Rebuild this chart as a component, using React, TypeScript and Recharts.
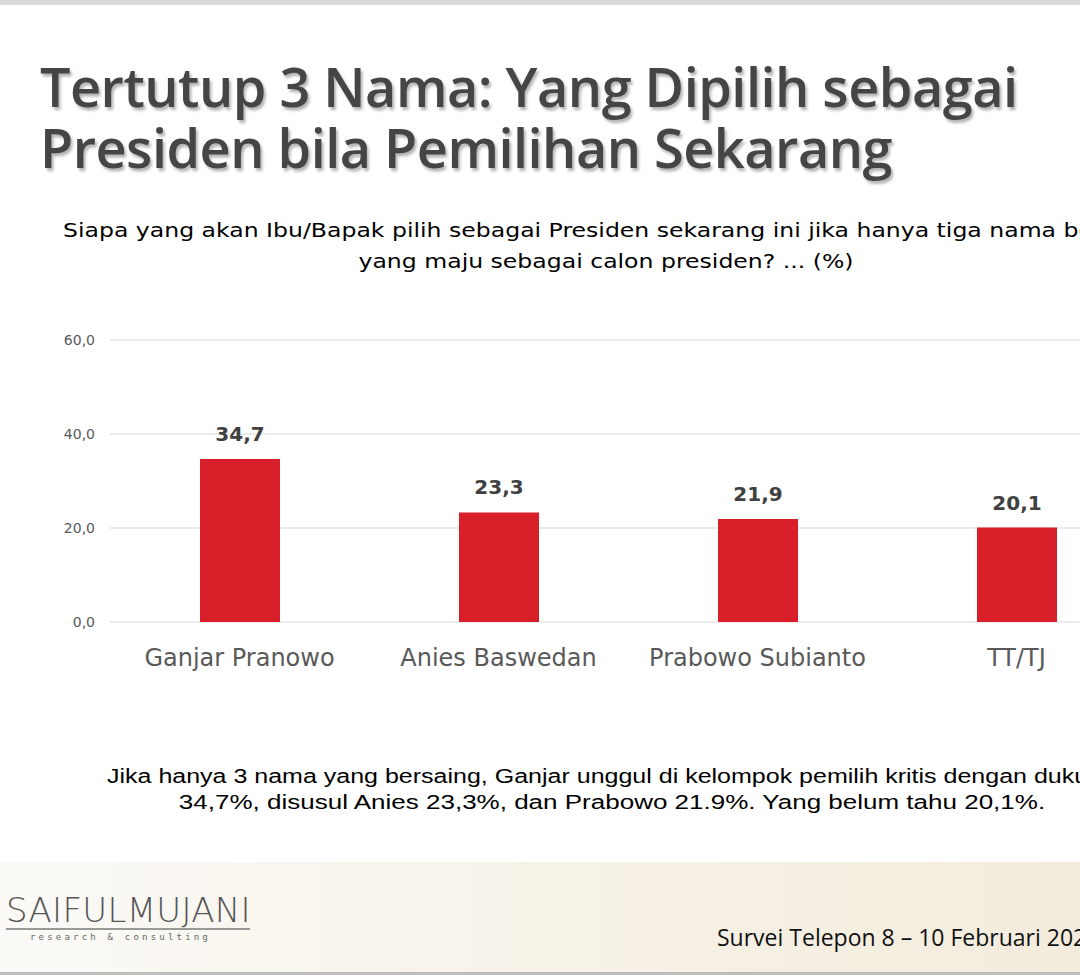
import React from "react";
import { BarChart, Bar, XAxis, YAxis, CartesianGrid, LabelList } from "recharts";

const candidates = ["Ganjar Pranowo", "Anies Baswedan", "Prabowo Subianto", "TT/TJ"];
const shares = [34.7, 23.3, 21.9, 20.1];
const yTicks = [0, 20, 40, 60];

const data = candidates.map((name, i) => ({ name, value: shares[i] }));

const fmt = (v: number) => v.toFixed(1).replace(".", ",");

const titleStyle: React.CSSProperties = {
  position: "absolute",
  left: 40,
  fontFamily: "'Open Sans', sans-serif",
  fontWeight: 600,
  fontSize: 54,
  lineHeight: "54px",
  color: "#454545",
  textShadow: "2px 3px 3px rgba(0,0,0,0.3)",
  whiteSpace: "nowrap",
  letterSpacing: -0.5
};

const App = () => {
  return (
    <div
      style={{
        position: "absolute",
        left: 0,
        top: 0,
        width: 1080,
        height: 977,
        overflow: "hidden",
        background: "#fff",
        fontFamily: "'Liberation Sans', Arial, sans-serif"
      }}
    >
      <div style={{ position: "absolute", left: 0, top: 0, width: 1080, height: 5, background: "#d9d9d9" }} />

      <div style={{ ...titleStyle, top: 59 }}>Tertutup 3 Nama: Yang Dipilih sebagai</div>
      <div style={{ ...titleStyle, top: 120 }}>Presiden bila Pemilihan Sekarang</div>

      <div
        style={{
          position: "absolute",
          left: 63,
          top: 219,
          fontSize: 19,
          color: "#000",
          whiteSpace: "nowrap",
          fontFamily: "'DejaVu Sans', sans-serif",
          transform: "scaleX(1.24)",
          transformOrigin: "left center"
        }}
      >
        Siapa yang akan Ibu/Bapak pilih sebagai Presiden sekarang ini jika hanya tiga nama berikut ini
      </div>
      <div
        style={{
          position: "absolute",
          left: 106,
          width: 1000,
          top: 250,
          fontSize: 19,
          color: "#000",
          textAlign: "center",
          whiteSpace: "nowrap",
          fontFamily: "'DejaVu Sans', sans-serif",
          transform: "scaleX(1.24)",
          transformOrigin: "center center"
        }}
      >
        yang maju sebagai calon presiden? ... (%)
      </div>

      <div style={{ position: "absolute", left: 0, top: 300 }}>
        <BarChart width={1146} height={400} data={data} margin={{ top: 40, right: 0, left: 0, bottom: 18 }}>
          <CartesianGrid vertical={false} stroke="#d9d9d9" />
          <YAxis
            domain={[0, 60]}
            ticks={yTicks}
            width={110}
            axisLine={false}
            tickLine={false}
            tickSize={0}
            tickMargin={15}
            tickFormatter={fmt}
            tick={{ fill: "#595959", fontSize: 14, fontFamily: "'DejaVu Sans', sans-serif" }}
          />
          <XAxis
            dataKey="name"
            height={60}
            axisLine={false}
            tickLine={false}
            tickSize={0}
            tickMargin={27}
            interval={0}
            tick={{ fill: "#595959", fontSize: 24, fontFamily: "'DejaVu Sans', sans-serif" }}
          />
          <Bar dataKey="value" fill="#d81f2a" barSize={80} isAnimationActive={false}>
            <LabelList
              dataKey="value"
              position="top"
              offset={18}
              formatter={(v: any) => fmt(Number(v))}
              style={{ fill: "#404040", fontSize: 20, fontWeight: 700, fontFamily: "'DejaVu Sans', sans-serif" }}
            />
          </Bar>
        </BarChart>
      </div>

      <div
        style={{
          position: "absolute",
          left: 107,
          top: 765,
          fontSize: 20,
          color: "#000",
          whiteSpace: "nowrap",
          transform: "scaleX(1.25)",
          transformOrigin: "left center"
        }}
      >
        Jika hanya 3 nama yang bersaing, Ganjar unggul di kelompok pemilih kritis dengan dukungan
      </div>
      <div
        style={{
          position: "absolute",
          left: 112,
          width: 1000,
          top: 791,
          fontSize: 20,
          color: "#000",
          textAlign: "center",
          whiteSpace: "nowrap",
          transform: "scaleX(1.3)",
          transformOrigin: "center center"
        }}
      >
        34,7%, disusul Anies 23,3%, dan Prabowo 21.9%. Yang belum tahu 20,1%.
      </div>

      <div
        style={{
          position: "absolute",
          left: 0,
          top: 862,
          width: 1080,
          height: 110,
          background: "linear-gradient(90deg, #fbfaf7 0%, #f7f2e8 50%, #f3ecdd 100%)",
          borderBottom: "3px solid #bdbdbd"
        }}
      />
      <div
        style={{
          position: "absolute",
          left: 6,
          top: 890,
          fontFamily: "'DejaVu Sans', sans-serif",
          fontWeight: 200,
          fontSize: 34,
          color: "#555",
          letterSpacing: 0.3,
          whiteSpace: "nowrap"
        }}
      >
        SAIFULMUJANI
      </div>
      <div style={{ position: "absolute", left: 6, top: 928, width: 244, height: 2, background: "#999" }} />
      <div
        style={{
          position: "absolute",
          left: 30,
          top: 932,
          fontSize: 9,
          letterSpacing: 3.2,
          color: "#666",
          fontFamily: "'DejaVu Sans Mono', monospace",
          whiteSpace: "nowrap"
        }}
      >
        research &amp; consulting
      </div>
      <div
        style={{
          position: "absolute",
          left: 717,
          top: 921,
          fontSize: 23,
          color: "#111",
          fontFamily: "'Open Sans', sans-serif",
          whiteSpace: "nowrap"
        }}
      >
        Survei Telepon 8 – 10 Februari 2023
      </div>
    </div>
  );
};

export default App;
